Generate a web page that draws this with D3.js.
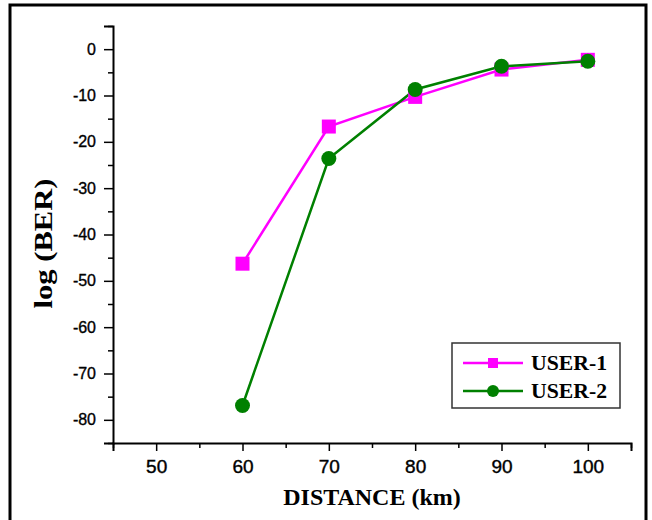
<!DOCTYPE html>
<html>
<head>
<meta charset="utf-8">
<script src="https://cdn.jsdelivr.net/npm/d3@7"></script>
<style>
  html, body { margin: 0; padding: 0; background: #fff; }
  svg { display: block; }
</style>
</head>
<body>
<svg id="chart" width="652" height="520"></svg>
<script>
// ---- data ----
const distances = [60, 70, 80, 90, 100];
const user1 = [-46.3, -16.7, -10.3, -4.4, -2.3];
const user2 = [-76.9, -23.6, -8.7, -3.7, -2.6];
const seriesNames = ["USER-1", "USER-2"];
const xTickValues = [50, 60, 70, 80, 90, 100];
const yTickValues = [0, -10, -20, -30, -40, -50, -60, -70, -80];
const xTitle = "DISTANCE (km)";
const yTitle = "log (BER)";

const svg = d3.select("#chart");

// outer frame
svg.append("rect")
  .attr("x", 10).attr("y", 5).attr("width", 636).attr("height", 530)
  .attr("fill", "none").attr("stroke", "#000").attr("stroke-width", 3);

const pL = 113, pR = 631, pT = 26, pB = 443;
const x = d3.scaleLinear().domain([45, 105]).range([pL, pR]);
const y = d3.scaleLinear().domain([-85, 5]).range([pB, pT]);

const tickFont = "'Liberation Sans', Arial, sans-serif";
const serif = "'Liberation Serif', 'Times New Roman', serif";
const fmt = d => String(d); // plain hyphen-minus like the original

// minor ticks
const xMinor = d3.range(45, 106, 10);
const yMinor = d3.range(-85, 6, 10);

const gx = svg.append("g").attr("transform", `translate(0,${pB})`);
gx.call(d3.axisBottom(x).tickValues(xMinor).tickSize(5).tickFormat(""));
gx.select(".domain").remove();
gx.selectAll(".tick line").attr("stroke-width", 1.5);
const gx2 = svg.append("g").attr("transform", `translate(0,${pB})`);
gx2.call(d3.axisBottom(x).tickValues(xTickValues).tickSize(8).tickPadding(9).tickFormat(fmt));
gx2.select(".domain").attr("stroke-width", 2);
gx2.selectAll(".tick line").attr("stroke-width", 1.5);
gx2.selectAll(".tick text")
  .attr("font-family", tickFont).attr("font-size", 19).attr("fill", "#000")
  .attr("stroke", "#000").attr("stroke-width", 0.4);

const gy = svg.append("g").attr("transform", `translate(${pL},0)`);
gy.call(d3.axisLeft(y).tickValues(yMinor).tickSize(5).tickFormat(""));
gy.select(".domain").remove();
gy.selectAll(".tick line").attr("stroke-width", 1.5);
const gy2 = svg.append("g").attr("transform", `translate(${pL},0)`);
gy2.call(d3.axisLeft(y).tickValues(yTickValues).tickSize(9).tickPadding(8).tickFormat(fmt));
gy2.select(".domain").attr("stroke-width", 2);
gy2.selectAll(".tick line").attr("stroke-width", 1.5);
gy2.selectAll(".tick text")
  .attr("font-family", tickFont).attr("font-size", 16).attr("fill", "#000")
  .attr("stroke", "#000").attr("stroke-width", 0.35);

// titles
svg.append("text")
  .attr("x", (pL + pR) / 2).attr("y", 505)
  .attr("text-anchor", "middle")
  .attr("font-family", serif).attr("font-weight", "bold").attr("font-size", 24)
  .text(xTitle);
svg.append("text")
  .attr("transform", `translate(52,${(pT + pB) / 2 + 9}) rotate(-90)`)
  .attr("text-anchor", "middle")
  .attr("font-family", serif).attr("font-weight", "bold").attr("font-size", 25)
  .attr("textLength", 130).attr("lengthAdjust", "spacingAndGlyphs")
  .text(yTitle);

// series
const colors = ["#ff00ff", "#008000"];
const datasets = [user1, user2];
const line = d3.line().x((d, i) => x(distances[i])).y(d => y(d));

datasets.forEach((vals, k) => {
  svg.append("path").datum(vals)
    .attr("d", line).attr("fill", "none")
    .attr("stroke", colors[k]).attr("stroke-width", 2.5);
});
svg.selectAll(".sq").data(user1).enter().append("rect")
  .attr("x", (d, i) => x(distances[i]) - 7)
  .attr("y", d => y(d) - 7)
  .attr("width", 14).attr("height", 14)
  .attr("fill", colors[0]);
svg.selectAll(".ci").data(user2).enter().append("circle")
  .attr("cx", (d, i) => x(distances[i]))
  .attr("cy", d => y(d))
  .attr("r", 7.5)
  .attr("fill", colors[1]);

// legend
const lg = svg.append("g");
lg.append("rect")
  .attr("x", 452).attr("y", 343).attr("width", 168).attr("height", 65)
  .attr("fill", "#fff").attr("stroke", "#333").attr("stroke-width", 1.5);
seriesNames.forEach((name, k) => {
  const cy = 363 + k * 28;
  lg.append("line").attr("x1", 463).attr("x2", 523).attr("y1", cy).attr("y2", cy)
    .attr("stroke", colors[k]).attr("stroke-width", 2.5);
  if (k === 0) {
    lg.append("rect").attr("x", 488).attr("y", cy - 5).attr("width", 10).attr("height", 10)
      .attr("fill", colors[k]);
  } else {
    lg.append("circle").attr("cx", 493).attr("cy", cy).attr("r", 6).attr("fill", colors[k]);
  }
  lg.append("text").attr("x", 531).attr("y", cy + 7)
    .attr("font-family", serif).attr("font-weight", "bold").attr("font-size", 20)
    .attr("textLength", 76).attr("lengthAdjust", "spacingAndGlyphs")
    .text(name);
});
</script>
</body>
</html>
